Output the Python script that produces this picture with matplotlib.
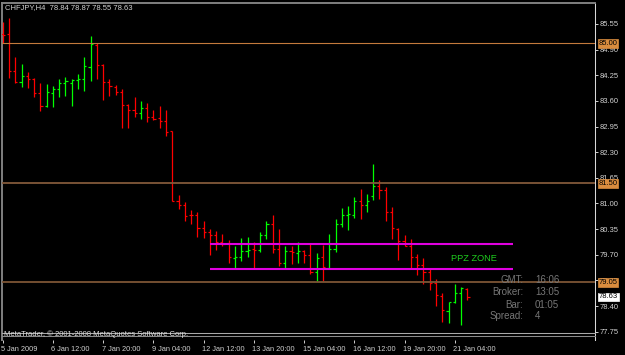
import matplotlib
matplotlib.use('Agg')
import matplotlib.pyplot as plt
import matplotlib.transforms as mtransforms
import numpy as np

plt.rcParams['font.family'] = ['Liberation Sans', 'DejaVu Sans']

# ---------------- data ----------------
symbol = "CHFJPY,H4"
opens = [85.30, 85.29, 84.35, 84.08, 84.22, 84.16, 83.79, 83.48, 83.81, 83.89,
         84.05, 84.05, 84.12, 84.15, 84.47, 85.03, 84.52, 84.08, 83.96, 83.83,
         83.50, 83.37, 83.30, 83.41, 83.19, 83.16, 83.09, 82.83, 81.07, 80.97,
         80.72, 80.70, 80.37, 80.29, 80.21, 80.02, 80.01, 79.62, 79.64, 79.79,
         79.84, 79.82, 80.19, 80.49, 79.84, 79.48, 79.80, 79.75, 79.79, 79.69,
         79.26, 79.64, 79.37, 79.84, 80.49, 80.71, 80.72, 81.07, 80.95, 81.18,
         81.44, 81.34, 80.78, 80.35, 80.06, 79.92, 79.65, 79.44, 79.26, 78.99,
         78.66, 78.27, 78.50, 78.72, 78.84]
highs = [85.61, 85.69, 84.71, 84.54, 84.33, 84.17, 84.05, 84.03, 83.98, 84.16,
         84.21, 84.15, 84.29, 84.71, 85.25, 85.07, 84.54, 84.16, 84.01, 83.91,
         83.51, 83.69, 83.59, 83.54, 83.37, 83.47, 83.37, 82.84, 81.21, 81.05,
         80.84, 80.78, 80.56, 80.35, 80.30, 80.23, 80.07, 79.92, 80.12, 80.14,
         80.03, 80.27, 80.56, 80.71, 80.35, 79.92, 79.92, 80.02, 79.82, 79.97,
         79.74, 79.94, 80.23, 80.61, 80.89, 80.94, 81.17, 81.36, 81.23, 82.01,
         81.60, 81.43, 80.91, 80.37, 80.20, 80.09, 79.72, 79.61, 79.37, 79.08,
         78.74, 78.51, 78.96, 78.88, 78.87]
lows = [85.06, 84.17, 84.06, 83.96, 83.94, 83.71, 83.35, 83.45, 83.45, 83.70,
        83.72, 83.48, 83.90, 83.85, 84.11, 84.16, 83.63, 83.72, 83.76, 82.92,
        82.92, 83.20, 83.15, 83.07, 83.11, 82.92, 82.72, 81.06, 80.86, 80.56,
        80.48, 80.14, 80.12, 79.70, 79.82, 79.93, 79.49, 79.33, 79.54, 79.64,
        79.36, 79.77, 80.11, 79.75, 79.42, 79.33, 79.47, 79.50, 79.48, 79.21,
        79.04, 79.04, 79.34, 79.78, 80.40, 80.34, 80.64, 80.61, 80.79, 81.08,
        81.12, 80.56, 80.09, 79.56, 79.91, 79.34, 79.18, 78.96, 78.82, 78.40,
        78.00, 77.96, 78.49, 77.92, 78.55]
closes = [85.28, 84.35, 84.08, 84.22, 84.16, 83.79, 83.46, 83.83, 83.89, 84.06,
          84.10, 84.13, 84.15, 84.48, 85.04, 84.52, 84.08, 83.98, 83.83, 83.50,
          83.37, 83.30, 83.41, 83.19, 83.14, 83.09, 82.80, 81.07, 80.97, 80.69,
          80.70, 80.37, 80.29, 80.21, 80.02, 79.98, 79.64, 79.65, 79.80, 79.81,
          79.82, 80.19, 80.49, 79.84, 79.48, 79.80, 79.77, 79.79, 79.69, 79.27,
          79.61, 79.38, 79.84, 80.49, 80.72, 80.73, 81.06, 80.96, 81.06, 81.44,
          81.34, 80.78, 80.37, 80.06, 79.92, 79.64, 79.44, 79.26, 78.99, 78.67,
          78.29, 78.50, 78.72, 78.87, 78.63]

xtick_pos = [0, 8, 16, 24, 32, 40, 48, 56, 64, 72]
xtick_labels = ["5 Jan 2009", "6 Jan 12:00", "7 Jan 20:00", "9 Jan 04:00",
                "12 Jan 12:00", "13 Jan 20:00", "15 Jan 04:00", "16 Jan 12:00",
                "19 Jan 20:00", "21 Jan 04:00"]
ytick_values = [85.55, 84.90, 84.25, 83.60, 82.95, 82.30, 81.65, 81.00,
                80.35, 79.70, 79.05, 78.40, 77.75]

level_values = [85.06, 81.51, 79.00]
level_labels = ["85.00", "81.50", "79.05"]
zone_top, zone_bottom = 79.98, 79.33
zone_start, zone_end = 33.0, 81.3
zone_label = "PPZ ZONE"
current_price = 78.63
info_labels = ["GMT:", "Broker:", "Bar:", "Spread:"]
info_values = ["16:06", "13:05", "01:05", "4"]
footer = "MetaTrader, \u00a9 2001-2008 MetaQuotes Software Corp."

# ---------------- figure ----------------
W, H = 625, 355
fig = plt.figure(figsize=(W / 100, H / 100), dpi=100, facecolor='black')
ax = fig.add_axes([2 / W, 1 - 340 / H, 593 / W, 337 / H])
ax.set_facecolor('black')

o = np.array(opens); h = np.array(highs); l = np.array(lows); c = np.array(closes)
x = np.arange(len(o))
cols = np.where(c >= o, '#00ff00', '#ff0000')
ax.vlines(x, l, h, colors=cols, lw=0.9, zorder=3)
ax.hlines(o, x - 0.34, x, colors=cols, lw=0.85, zorder=3)
ax.hlines(c, x, x + 0.34, colors=cols, lw=0.85, zorder=3)

lvl_colors = ['#c47a3c', '#82593a', '#7d5535']
lvl_widths = [0.8, 1.3, 1.3]
for v, col, lw in zip(level_values, lvl_colors, lvl_widths):
    ax.axhline(v, color=col, lw=lw, zorder=4)

ax.hlines([zone_top, zone_bottom], zone_start, zone_end, colors='#e000e0',
          lw=1.5, zorder=4)

ax.set_xlim(-0.111, 94.32)
ax.set_ylim(77.540, 86.082)

ax.yaxis.tick_right()
ax.set_yticks(ytick_values)
ax.set_yticklabels([f"{v:.2f}" for v in ytick_values])
ax.tick_params(axis='y', colors='#d0d0d0', length=2.2, width=0.7, pad=1.0,
               labelsize=5.5)
ax.set_xticks(xtick_pos)
ax.set_xticklabels(xtick_labels, ha='left')
ax.tick_params(axis='x', colors='#d0d0d0', length=2.2, width=0.7, pad=2.0,
               labelsize=5.3)
off = mtransforms.ScaledTranslation(-1.5 / 100, 0, fig.dpi_scale_trans)
for lbl in ax.get_xticklabels():
    lbl.set_transform(lbl.get_transform() + off)

ax.spines['bottom'].set_visible(False)
ax.spines['right'].set_color('#d8d8d8')
ax.spines['right'].set_linewidth(0.75)
ax.spines['left'].set_color('#808080')
ax.spines['left'].set_linewidth(1.4)
ax.spines['top'].set_color('#808080')
ax.spines['top'].set_linewidth(1.4)

# bottom double border of the chart window
ax.plot([0, 1], [0.0199, 0.0199], transform=ax.transAxes, color='#a8a8a8',
        lw=0.75, zorder=5, clip_on=False)
ax.plot([0, 1], [0.0125, 0.0125], transform=ax.transAxes, color='#8a8a8a',
        lw=0.75, zorder=5, clip_on=False)

# price boxes on the right scale
bt = mtransforms.blended_transform_factory(ax.transAxes, ax.transData)
for v, txt in zip(level_values, level_labels):
    ax.text(1 + 3.5 / 593, v, txt, transform=bt, ha='left', va='center',
            fontsize=5.5, color='black', zorder=6, clip_on=False,
            bbox=dict(boxstyle='square,pad=0.12', fc='#d98c3e', ec='#d98c3e',
                      lw=0.5))
ax.text(1 + 3.5 / 593, current_price, f"{current_price:.2f}", transform=bt,
        ha='left', va='center', fontsize=5.5, color='black', zorder=6,
        clip_on=False,
        bbox=dict(boxstyle='square,pad=0.12', fc='white', ec='white', lw=0.5))

# zone label
ax.text(0.7572, 0.2424, zone_label, transform=ax.transAxes, ha='left',
        va='center', fontsize=6.7, color='#1ecc1e', zorder=6)

# info panel
info_y = [0.1795, 0.141, 0.1053, 0.0712]
for yy, lab, val in zip(info_y, info_labels, info_values):
    ax.text(0.8786, yy, lab, transform=ax.transAxes, ha='right', va='center',
            fontsize=7, color='#777777', zorder=6)
    ax.text(0.8988, yy, val, transform=ax.transAxes, ha='left', va='center',
            fontsize=7, color='#777777', zorder=6)

# header and footer
fig.text(5 / W, 1 - 7.5 / H,
         f"{symbol}  {opens[-1]:.2f} {highs[-1]:.2f} {lows[-1]:.2f} {closes[-1]:.2f}",
         ha='left', va='center', fontsize=5.5, color='#d0d0d0')
fig.text(4 / W, 1 - 334 / H, footer, ha='left', va='center', fontsize=5.5,
         color='#e0e0e0', zorder=10)

fig.savefig('out.png', dpi=100, facecolor='black')
